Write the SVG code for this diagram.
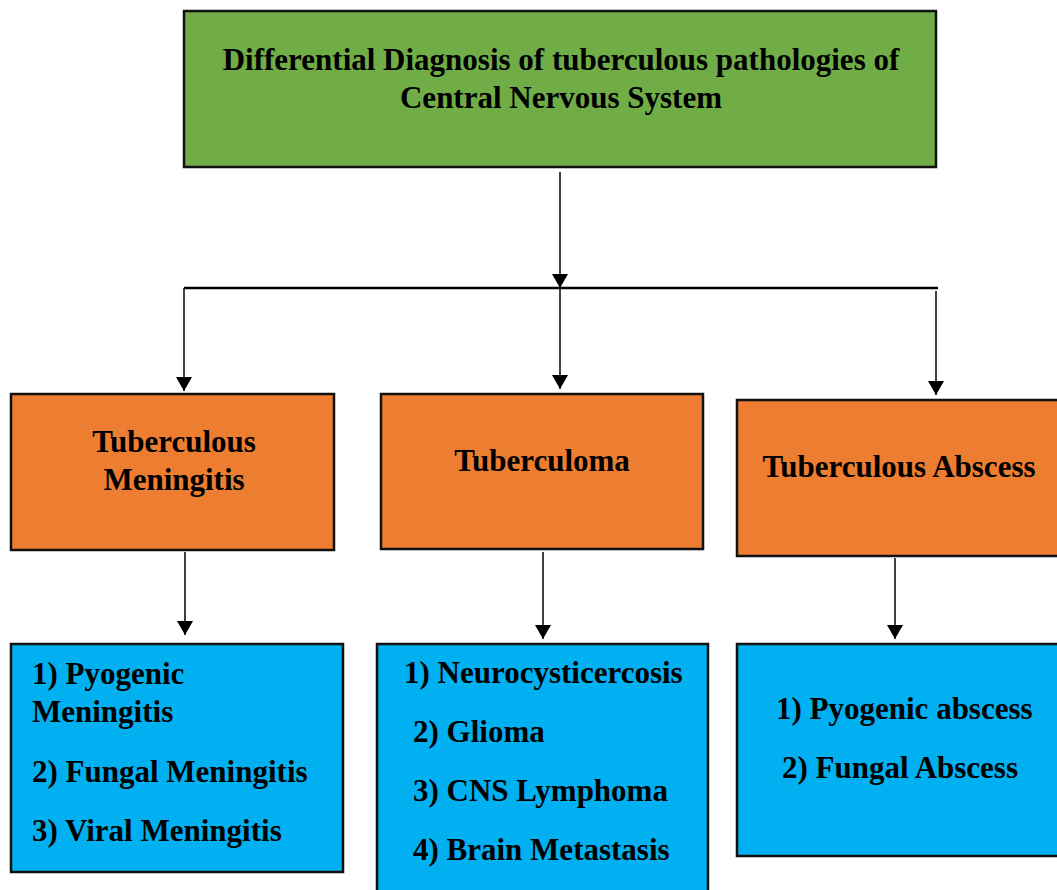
<svg xmlns="http://www.w3.org/2000/svg" width="1057" height="890" viewBox="0 0 1057 890">
<style>
  .box { stroke: #111; stroke-width: 2.5; }
  .green { fill: #70AD47; }
  .orange { fill: #ED7D31; }
  .blue { fill: #00B0F0; }
  .t { font-family: "Liberation Serif", "Times New Roman", serif; font-weight: bold; font-size: 31px; fill: #000; }
  .c { text-anchor: middle; }
  .ln { stroke: #000; stroke-width: 1.5; fill: none; }
  .hl { stroke: #000; stroke-width: 2.5; fill: none; }
</style>
<defs>
  <marker id="arr" viewBox="0 0 14 16" markerWidth="14" markerHeight="16" refX="14" refY="8" orient="auto" markerUnits="userSpaceOnUse">
    <path d="M0,0 L14,8 L0,16 z" fill="#000"/>
  </marker>
</defs>
<rect width="1057" height="890" fill="#fff"/>
<g id="connectors">
  <line class="ln" x1="560" y1="172" x2="560" y2="288" marker-end="url(#arr)"/>
  <line class="hl" x1="184" y1="288" x2="938" y2="288"/>
  <line class="ln" x1="184" y1="288" x2="184" y2="391" marker-end="url(#arr)"/>
  <line class="ln" x1="560" y1="288" x2="560" y2="389" marker-end="url(#arr)"/>
  <line class="ln" x1="936" y1="291" x2="936" y2="395" marker-end="url(#arr)"/>
  <line class="ln" x1="185" y1="552" x2="185" y2="635" marker-end="url(#arr)"/>
  <line class="ln" x1="543" y1="552" x2="543" y2="639" marker-end="url(#arr)"/>
  <line class="ln" x1="895" y1="558" x2="895" y2="639" marker-end="url(#arr)"/>
</g>
<g id="root">
  <rect class="box green" x="184" y="11" width="752" height="156"/>
  <text class="t c" x="561" y="70">Differential Diagnosis of tuberculous pathologies of</text>
  <text class="t c" x="561" y="108">Central Nervous System</text>
</g>
<g id="tb-meningitis">
  <rect class="box orange" x="11" y="394" width="323" height="156"/>
  <text class="t c" x="174" y="452">Tuberculous</text>
  <text class="t c" x="174" y="490">Meningitis</text>
</g>
<g id="tuberculoma">
  <rect class="box orange" x="381" y="394" width="322" height="155"/>
  <text class="t c" x="542" y="471">Tuberculoma</text>
</g>
<g id="tb-abscess">
  <rect class="box orange" x="737" y="400" width="325" height="156"/>
  <text class="t c" x="899" y="477">Tuberculous Abscess</text>
</g>
<g id="dd-meningitis">
  <rect class="box blue" x="11" y="644" width="332" height="228"/>
  <text class="t" x="32" y="684">1) Pyogenic</text>
  <text class="t" x="32" y="722">Meningitis</text>
  <text class="t" x="32" y="782">2) Fungal Meningitis</text>
  <text class="t" x="32" y="841">3) Viral Meningitis</text>
</g>
<g id="dd-tuberculoma">
  <rect class="box blue" x="377" y="644" width="331" height="260"/>
  <text class="t" x="404" y="683">1) Neurocysticercosis</text>
  <text class="t" x="413" y="742">2) Glioma</text>
  <text class="t" x="413" y="801">3) CNS Lymphoma</text>
  <text class="t" x="413" y="860">4) Brain Metastasis</text>
</g>
<g id="dd-abscess">
  <rect class="box blue" x="737" y="644" width="325" height="212"/>
  <text class="t" x="776" y="719">1) Pyogenic abscess</text>
  <text class="t" x="782" y="778">2) Fungal Abscess</text>
</g>
</svg>
